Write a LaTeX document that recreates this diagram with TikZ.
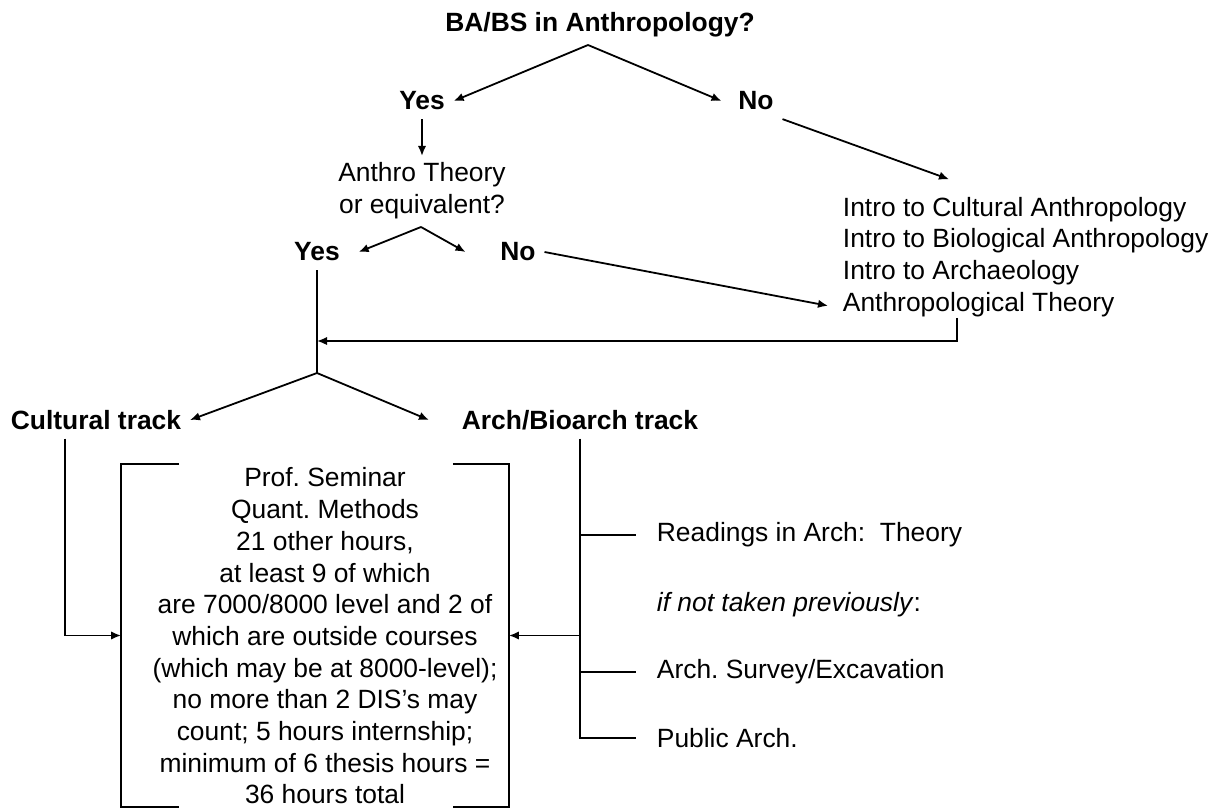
\documentclass[tikz,border=0pt]{standalone}
\usepackage{fontspec}
\setmainfont{Liberation Sans}
\usepackage{tikz}
\usetikzlibrary{arrows.meta}

\newcommand{\chartsize}{\fontsize{13.2}{15.85}\selectfont\frenchspacing}

\begin{document}
\begin{tikzpicture}[x=0.5pt,y=-0.5pt,line width=0.9pt,
    >={Latex[length=5pt,width=4.2pt]},
    every node/.style={font=\chartsize},
    lbl/.style={font=\chartsize\bfseries,inner sep=4pt},
    txt/.style={inner sep=0pt,align=left,anchor=west}]

    \useasboundingbox (0,0) rectangle (1218,808);

    \node[lbl]         (q1)    at (600,25)    {BA/BS in Anthropology?};
    \node[lbl]         (yes1)  at (422,101)   {Yes};
    \node[lbl]         (no1)   at (756,101)   {No};
    \node[inner sep=3pt,align=center] (q2) at (422,191) {Anthro Theory\\or equivalent?};
    \node[lbl]         (yes2)  at (317,252)   {Yes};
    \node[lbl]         (no2)   at (518,252)   {No};
    \node[txt]         (intro) at (842,257)   {Intro to Cultural Anthropology\\Intro to Biological Anthropology\\Intro to Archaeology\\Anthropological Theory};
    \node[lbl]         (cul)   at (96,420)    {Cultural track};
    \node[lbl]         (arc)   at (580,420)   {Arch/Bioarch track};
    \node[minimum width=193pt,minimum height=170.5pt] (frame) at (315,635.5) {};
    \node[inner sep=0pt,align=center] (req) at (325,636) {Prof. Seminar\\Quant. Methods\\21 other hours,\\at least 9 of which\\are 7000/8000 level and 2 of\\which are outside courses\\(which may be at 8000-level);\\no more than 2 DIS's may\\count; 5 hours internship;\\minimum of 6 thesis hours =\\36 hours total};
    \node[txt]         (r1)    at (656,535)   {Readings in Arch:\ \ Theory};
    \node[txt]         (r2)    at (656,605)   {\textit{if not taken previously}:};
    \node[txt]         (r3)    at (656,672)   {Arch. Survey/Excavation};
    \node[txt]         (r4)    at (656,738)   {Public Arch.};

    \coordinate (c1) at (588,45);
    \coordinate (c2) at (421,227);
    \coordinate (c3) at (317,373);
    \coordinate (c4) at (317,341);


    \draw (c1) edge[->] (yes1.east);
    \draw (c1) edge[->] ([xshift=-4pt]no1.west);
    \draw (yes1.south) edge[->] (q2.north);
    \draw (no1.south east) edge[->] ([shift={(107,-17)}]intro.north west);
    \draw (c2) edge[->] ([xshift=5pt]yes2.east);
    \draw (c2) edge[->] ([xshift=-13pt]no2.west);
    \draw (no2.east) edge[->] ([shift={(-14,-12)}]intro.south west);
    \draw[->] ([xshift=57.5pt]intro.south west) |- (c4);
    \draw (yes2.south) -- (c3);
    \draw (c3) edge[->] (cul.east);
    \draw (c3) edge[->] ([xshift=-12pt]arc.west);

    \draw ([xshift=29pt]frame.north west) -- (frame.north west) -- (frame.south west) -- ([xshift=29pt]frame.south west);
    \draw ([xshift=-28pt]frame.north east) -- (frame.north east) -- (frame.south east) -- ([xshift=-28pt]frame.south east);

    \draw[->] ([xshift=-15.5pt]cul.south) |- (frame.west);
    \draw (arc.south) |- ([xshift=-10pt]r4.west);
    \draw[->] (frame.east -| arc.south) -- (frame.east);
    \draw (r1.west -| arc.south) -- ([xshift=-10pt]r1.west);
    \draw (r3.west -| arc.south) -- ([xshift=-10pt]r3.west);
  \end{tikzpicture}
\end{document}
